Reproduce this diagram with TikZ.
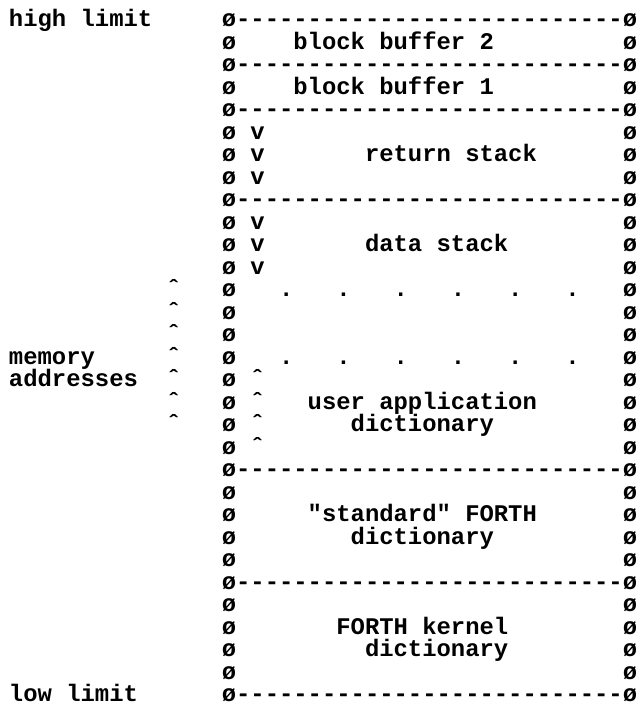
\documentclass[tikz,border=0pt]{standalone}
\usepackage{fontspec}
\newfontfamily\printfont{Liberation Mono}
\newcommand\pfont{\printfont\bfseries\fontsize{23.87pt}{24pt}\selectfont}
% 27 hyphens, kept apart so no ligature forms
\newcommand\dashrun{-{}-{}-{}-{}-{}-{}-{}-{}-{}-{}-{}-{}-{}-{}-{}-{}-{}-{}-{}-{}-{}-{}-{}-{}-{}-{}-{}}
\newcommand\caret{\char"02C6\relax}
% character grid: column pitch, row pitch, origins
\def\X{7}\def\XL{9}\def\W{14.32}\def\Y{26.5}\def\H{22.5}
\tikzset{
  glyph/.style={font=\pfont, inner sep=0pt, outer sep=0pt, anchor=base west, text=black},
}
\begin{document}
\begin{tikzpicture}[x=1pt,y=-1pt]
\useasboundingbox[fill=white] (0,0) rectangle (643,709);

% labels on the left
\node[glyph] (hilim) at ({\XL},{\Y}) {high limit};
\node[glyph] (mem)   at ({\XL},{\Y+15*\H}) {memory};
\node[glyph] (addr)  at ({\XL},{\Y+16*\H}) {addresses};
\node[glyph] (lolim) at ({\XL},{\Y+30*\H}) {low limit};

% growth direction of memory addresses
\foreach \rw in {13,...,19}
  \node[glyph] (up\rw) at ({\XL+11*\W},{\Y+(\rw-1)*\H}) {\caret};

% horizontal borders of the memory map
\foreach \rw in {1,3,5,9,21,26,31}
  \node[glyph] (sep\rw) at ({\X+15*\W},{\Y+(\rw-1)*\H}) {ø\dashrun ø};

% vertical borders
\foreach \rw in {2,4,6,7,8,10,11,12,13,14,15,16,17,18,19,20,22,23,24,25,27,28,29,30}{
  \node[glyph] (lb\rw) at ({\X+15*\W},{\Y+(\rw-1)*\H}) {ø};
  \node[glyph] (rb\rw) at ({\X+43*\W},{\Y+(\rw-1)*\H}) {ø};
}

% block buffers
\node[glyph] (bb2) at ({\X+20*\W},{\Y+1*\H}) {block buffer 2};
\node[glyph] (bb1) at ({\X+20*\W},{\Y+3*\H}) {block buffer 1};

% stacks growing downwards
\foreach \rw in {6,7,8,10,11,12}
  \node[glyph] (dn\rw) at ({\X+17*\W},{\Y+(\rw-1)*\H}) {v};
\node[glyph] (rstack) at ({\X+25*\W},{\Y+6*\H}) {return stack};
\node[glyph] (dstack) at ({\X+25*\W},{\Y+10*\H}) {data stack};

% free space
\foreach \rw in {13,16}
  \foreach \c in {19,23,27,31,35,39}
    \node[glyph] (dot\rw-\c) at ({\X+\c*\W},{\Y+(\rw-1)*\H}) {.};

% user dictionary growing upwards
\foreach \rw in {17,...,20}
  \node[glyph] (ua\rw) at ({\X+17*\W},{\Y+(\rw-1)*\H}) {\caret};
\node[glyph] (user1) at ({\X+21*\W},{\Y+17*\H}) {user application};
\node[glyph] (user2) at ({\X+24*\W},{\Y+18*\H}) {dictionary};

% standard dictionary
\node[glyph] (std1) at ({\X+21*\W},{\Y+22*\H}) {"standard" FORTH};
\node[glyph] (std2) at ({\X+24*\W},{\Y+23*\H}) {dictionary};

% kernel
\node[glyph] (ker1) at ({\X+23*\W},{\Y+27*\H}) {FORTH kernel};
\node[glyph] (ker2) at ({\X+25*\W},{\Y+28*\H}) {dictionary};
\end{tikzpicture}
\end{document}
